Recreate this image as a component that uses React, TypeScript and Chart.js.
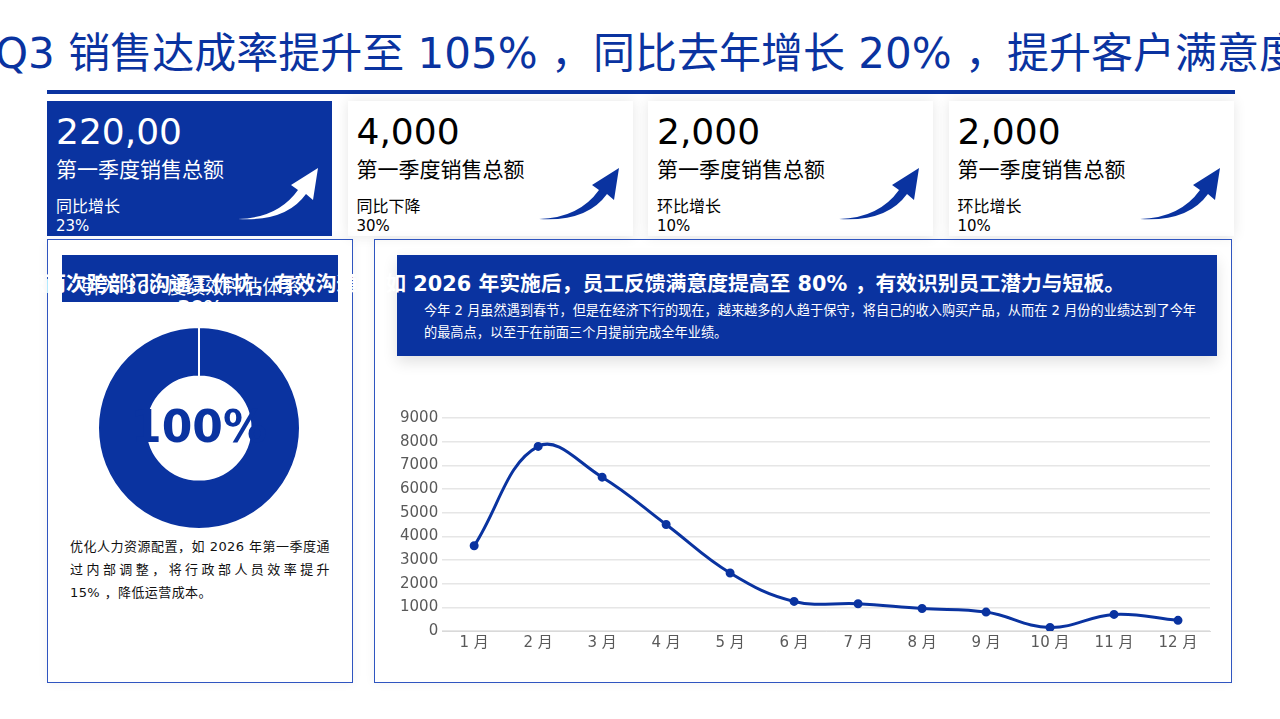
import React, { useEffect, useRef } from 'react';
import { Chart, registerables } from 'chart.js';

Chart.register(...registerables);

const BLUE = '#0a33a0';
const FONT = '"DejaVu Sans", "Noto Sans CJK SC", sans-serif';

// line chart data
const months = ['1 月', '2 月', '3 月', '4 月', '5 月', '6 月', '7 月', '8 月', '9 月', '10 月', '11 月', '12 月'];
const sales = [3600, 7800, 6500, 4500, 2450, 1250, 1150, 950, 800, 150, 700, 450];

// doughnut data
const ringLabels = ['完成'];
const ringValues = [100];

// kpi cards
const kpiValues = ['220,00', '4,000', '2,000', '2,000'];
const kpiTitles = ['第一季度销售总额', '第一季度销售总额', '第一季度销售总额', '第一季度销售总额'];
const kpiNotes = ['同比增长', '同比下降', '环比增长', '环比增长'];
const kpiRates = ['23%', '30%', '10%', '10%'];

const Arrow = ({ color }: { color: string }) => (
  <svg width="82" height="54" viewBox="0 0 82 54" style={{ position: 'absolute', right: 12, top: 67 }}>
    <path
      d="M0,51 Q40,50 60,22 L53,17 L80,0 L75,32 L68,26 Q48,54 0,51 Z"
      fill={color}
    />
  </svg>
);

const LineChart = () => {
  const ref = useRef<HTMLCanvasElement | null>(null);
  const chartRef = useRef<Chart<'line'> | null>(null);

  useEffect(() => {
    if (chartRef.current) chartRef.current.destroy();
    if (!ref.current) return;
    chartRef.current = new Chart(ref.current, {
      type: 'line',
      data: {
        labels: months,
        datasets: [{
          data: sales,
          borderColor: BLUE,
          backgroundColor: BLUE,
          borderWidth: 3,
          tension: 0.4,
          pointRadius: 3,
          pointHoverRadius: 3,
        }],
      },
      options: {
        animation: false,
        responsive: true,
        maintainAspectRatio: false,
        plugins: { legend: { display: false }, tooltip: { enabled: false } },
        layout: { padding: { top: 0, right: 4 } },
        scales: {
          x: {
            offset: true,
            grid: { display: false, drawTicks: false },
            border: { color: '#d9d9d9' },
            ticks: { color: '#595959', font: { size: 15, family: FONT }, padding: 3 },
          },
          y: {
            min: 0,
            max: 9000,
            grid: { color: '#e6e6e6', lineWidth: 1.5, drawTicks: false },
            border: { display: false },
            ticks: {
              stepSize: 1000,
              color: '#595959',
              font: { size: 15, family: FONT },
              padding: 4,
              callback: (v) => String(v),
            },
          },
        },
      },
    });
    return () => {
      chartRef.current?.destroy();
      chartRef.current = null;
    };
  }, []);

  return <canvas ref={ref}></canvas>;
};

const RingChart = () => {
  const ref = useRef<HTMLCanvasElement | null>(null);
  const chartRef = useRef<Chart<'doughnut'> | null>(null);

  useEffect(() => {
    if (chartRef.current) chartRef.current.destroy();
    if (!ref.current) return;
    chartRef.current = new Chart(ref.current, {
      type: 'doughnut',
      data: {
        labels: ringLabels,
        datasets: [{
          data: ringValues,
          backgroundColor: [BLUE],
          borderColor: '#ffffff',
          borderWidth: 2,
        }],
      },
      options: {
        animation: false,
        responsive: true,
        maintainAspectRatio: false,
        cutout: '51%',
        plugins: { legend: { display: false }, tooltip: { enabled: false } },
      },
    });
    return () => {
      chartRef.current?.destroy();
      chartRef.current = null;
    };
  }, []);

  return <canvas ref={ref}></canvas>;
};

const App = () => {
  return (
    <div style={{ position: 'fixed', left: 0, top: 0, width: 1280, height: 719, overflow: 'hidden', background: '#fff', fontFamily: FONT }}>
      {/* title */}
      <div style={{ position: 'absolute', left: -5, top: 26, whiteSpace: 'nowrap', fontSize: 42, lineHeight: '56px', color: BLUE }}>
        Q3 销售达成率提升至 105% ，同比去年增长 20% ，提升客户满意度
      </div>
      <div style={{ position: 'absolute', left: 47, top: 90, width: 1188, height: 4, background: BLUE }} />

      {/* kpi cards */}
      {kpiValues.map((v, i) => {
        const dark = i === 0;
        const color = dark ? '#fff' : '#000';
        return (
          <div key={i} style={{
            position: 'absolute', left: 47 + i * 300.5, top: 101, width: 285, height: 135,
            background: dark ? BLUE : '#fff',
            boxShadow: dark ? 'none' : '0 0 12px rgba(0,0,0,0.10)',
            color,
          }}>
            <div style={{ position: 'absolute', left: 9, top: 8, fontSize: 36, lineHeight: '46px' }}>{v}</div>
            <div style={{ position: 'absolute', left: 9, top: 55, fontSize: 21, lineHeight: '28px' }}>{kpiTitles[i]}</div>
            <div style={{ position: 'absolute', left: 9, top: 96, fontSize: 16, lineHeight: '20px' }}>{kpiNotes[i]}</div>
            <div style={{ position: 'absolute', left: 9, top: 115, fontSize: 15, lineHeight: '20px' }}>{kpiRates[i]}</div>
            <Arrow color={dark ? '#fff' : BLUE} />
          </div>
        );
      })}

      {/* left panel */}
      <div style={{ position: 'absolute', left: 47, top: 239, width: 304, height: 442, border: '1.5px solid #2f55c0', boxShadow: '0 0 10px rgba(0,0,0,0.06)' }} />
      <div style={{ position: 'absolute', left: 62, top: 255, width: 276, height: 47, background: BLUE }} />
      <div style={{ position: 'absolute', left: 62, top: 277, width: 276, color: '#fff', fontSize: 19, lineHeight: '20px', whiteSpace: 'nowrap', display: 'flex', justifyContent: 'center' }}>
        <div style={{ textAlign: 'center' }}>
          <div>引入 360 度绩效评估体系，</div>
          <div style={{ fontWeight: 700 }}>30%</div>
        </div>
      </div>
      <div style={{ position: 'absolute', left: 97, top: 326, width: 204, height: 204 }}>
        <RingChart />
      </div>
      <div style={{ position: 'absolute', left: 44, top: 399, width: 310, textAlign: 'center', fontSize: 44, fontWeight: 700, color: BLUE, lineHeight: '56px' }}>
        100%
      </div>
      <div style={{ position: 'absolute', left: 70, top: 535, width: 260, fontSize: 13, lineHeight: '23px', color: '#111', textAlign: 'justify', letterSpacing: 0.4 }}>
        优化人力资源配置，如 2026 年第一季度通过内部调整，将行政部人员效率提升 15%{'\u00a0'}，降低运营成本。
      </div>

      {/* right panel */}
      <div style={{ position: 'absolute', left: 374, top: 239, width: 856, height: 442, border: '1.5px solid #2f55c0', boxShadow: '0 0 10px rgba(0,0,0,0.06)' }} />
      <div style={{ position: 'absolute', left: 397, top: 255, width: 820, height: 101, background: BLUE, boxShadow: '0 6px 14px rgba(0,0,0,0.12)' }} />
      <div style={{ position: 'absolute', left: 424, top: 300, width: 785, fontSize: 13.2, lineHeight: '22px', color: '#fff' }}>
        今年 2 月虽然遇到春节，但是在经济下行的现在，越来越多的人趋于保守，将自己的收入购买产品，从而在 2 月份的业绩达到了今年的最高点，以至于在前面三个月提前完成全年业绩。
      </div>

      {/* overflowing headline across both panels */}
      <div style={{ position: 'absolute', right: 1280 - 1125, top: 270, whiteSpace: 'nowrap', fontSize: 20.8, fontWeight: 700, lineHeight: '28px', color: '#fff' }}>
        每季度组织两次跨部门沟通工作坊，有效沟通。 如 2026 年实施后，员工反馈满意度提高至 80% ，有效识别员工潜力与短板。
      </div>

      <div style={{ position: 'absolute', left: 396, top: 405, width: 820, height: 250 }}>
        <LineChart />
      </div>
    </div>
  );
};

export default App;
